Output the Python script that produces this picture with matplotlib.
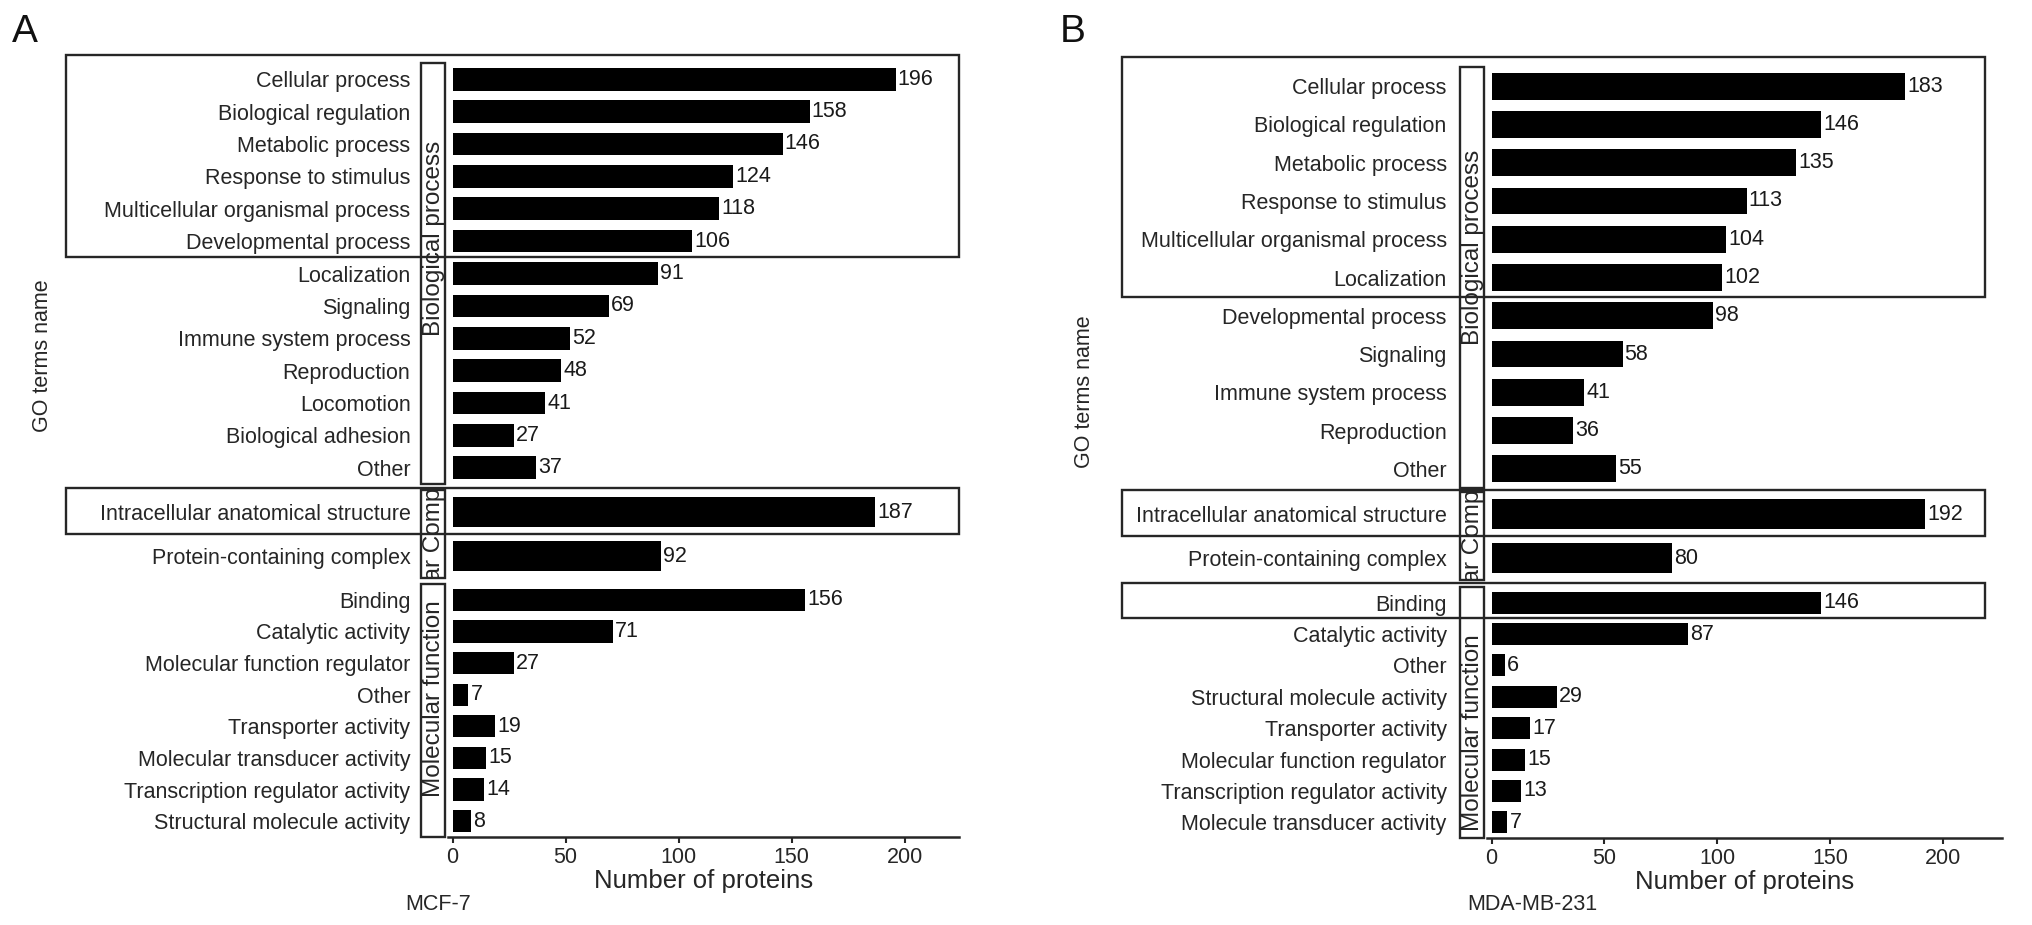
import matplotlib
matplotlib.use("Agg")
import matplotlib.pyplot as plt
from matplotlib.patches import Rectangle

plt.rcParams['font.family'] = ['Liberation Sans', 'DejaVu Sans']

# MCF-7 (panel A)
a_bp_terms = ["Cellular process", "Biological regulation", "Metabolic process",
              "Response to stimulus", "Multicellular organismal process",
              "Developmental process", "Localization", "Signaling",
              "Immune system process", "Reproduction", "Locomotion",
              "Biological adhesion", "Other"]
a_bp_counts = [196, 158, 146, 124, 118, 106, 91, 69, 52, 48, 41, 27, 37]
a_cc_terms = ["Intracellular anatomical structure", "Protein-containing complex"]
a_cc_counts = [187, 92]
a_mf_terms = ["Binding", "Catalytic activity", "Molecular function regulator",
              "Other", "Transporter activity", "Molecular transducer activity",
              "Transcription regulator activity", "Structural molecule activity"]
a_mf_counts = [156, 71, 27, 7, 19, 15, 14, 8]

# MDA-MB-231 (panel B)
b_bp_terms = ["Cellular process", "Biological regulation", "Metabolic process",
              "Response to stimulus", "Multicellular organismal process",
              "Localization", "Developmental process", "Signaling",
              "Immune system process", "Reproduction", "Other"]
b_bp_counts = [183, 146, 135, 113, 104, 102, 98, 58, 41, 36, 55]
b_cc_terms = ["Intracellular anatomical structure", "Protein-containing complex"]
b_cc_counts = [192, 80]
b_mf_terms = ["Binding", "Catalytic activity", "Other",
              "Structural molecule activity", "Transporter activity",
              "Molecular function regulator", "Transcription regulator activity",
              "Molecule transducer activity"]
b_mf_counts = [146, 87, 6, 29, 17, 15, 13, 7]

strip_names = ["Biological process", "Cellular Component", "Molecular function"]
x_ticks = [0, 50, 100, 150, 200]

W, H = 2032, 925
fig = plt.figure(figsize=(W / 100, H / 100), dpi=100)
DARK = "#262626"


def fx(px):
    return px / W


def fy(py):
    return 1 - py / H


def to_fig(ax, y):
    disp = ax.transData.transform((0, y))
    return fig.transFigure.inverted().transform(disp)[1]


def highlight(ax, first, last, x0, x1, pad_top):
    ytop = to_fig(ax, first - 0.5) + pad_top / H
    ybot = to_fig(ax, last + 0.5)
    fig.add_artist(Rectangle((fx(x0), ybot), fx(x1) - fx(x0), ytop - ybot,
                             transform=fig.transFigure, fill=False,
                             ec=DARK, lw=1.7, zorder=5))


def draw_panel(groups, x0, x1, xmax, facets, strip_x, label_pad, strip_shift):
    axes = []
    for i, ((terms, counts), (top, bot)) in enumerate(zip(groups, facets)):
        ax = fig.add_axes([fx(x0), fy(bot), fx(x1) - fx(x0), (bot - top) / H])
        ypos = list(range(len(terms)))
        ax.barh(ypos, counts, height=0.7, color="black")
        for yy, c in zip(ypos, counts):
            ax.annotate(str(c), (c, yy), xytext=(1.5, 0), textcoords="offset points",
                        va="center", ha="left", fontsize=15.5, color="#1a1a1a")
        ax.set_ylim(len(terms) - 0.5, -0.5)
        ax.set_xlim(-2, xmax)
        ax.set_yticks(ypos)
        ax.set_yticklabels(terms, fontsize=15.5, color=DARK)
        ax.tick_params(axis="y", length=0, pad=label_pad)
        for s in ["top", "right", "left"]:
            ax.spines[s].set_visible(False)
        if i == len(groups) - 1:
            ax.spines["bottom"].set_linewidth(1.8)
            ax.spines["bottom"].set_color(DARK)
            ax.set_xticks(x_ticks)
            ax.tick_params(axis="x", length=4, width=1.5, color=DARK,
                           labelsize=15.5, labelcolor=DARK, pad=3)
            ax.set_xlabel("Number of proteins", fontsize=18.5, color=DARK, labelpad=1)
        else:
            ax.spines["bottom"].set_visible(False)
            ax.set_xticks([])
        # strip on the left
        rect = Rectangle((fx(strip_x[0]), fy(bot)), fx(strip_x[1]) - fx(strip_x[0]),
                         (bot - top) / H, transform=fig.transFigure, fill=False,
                         ec=DARK, lw=1.7)
        fig.add_artist(rect)
        t = fig.text(fx(sum(strip_x) / 2 + 1), fy((top + bot) / 2 + strip_shift[i]),
                     strip_names[i], rotation=90, ha="center", va="center",
                     fontsize=17.5, color=DARK)
        t.set_clip_path(rect)
        axes.append(ax)
    return axes


axA = draw_panel([(a_bp_terms, a_bp_counts), (a_cc_terms, a_cc_counts),
                  (a_mf_terms, a_mf_counts)],
                 448, 959, 224, [(63, 484), (490, 578), (584, 837)], (421, 445), 27,
                 (-35, 0, -12))
axB = draw_panel([(b_bp_terms, b_bp_counts), (b_cc_terms, b_cc_counts),
                  (b_mf_terms, b_mf_counts)],
                 1487, 2002, 226, [(67, 488), (492, 580), (587, 838)], (1460, 1484), 29,
                 (-30, 0, 20))

highlight(axA[0], 0, 5, 66, 959, 8)
highlight(axA[1], 0, 0, 66, 959, 2)
highlight(axB[0], 0, 5, 1122, 1985, 10)
highlight(axB[1], 0, 0, 1122, 1985, 2)
highlight(axB[2], 0, 0, 1122, 1985, 4)

fig.text(fx(43), fy(356), "GO terms name", rotation=90, ha="center", va="center",
         fontsize=15.5, color=DARK)
fig.text(fx(1085), fy(392), "GO terms name", rotation=90, ha="center", va="center",
         fontsize=15.5, color=DARK)
fig.text(fx(405), fy(905), "MCF-7", ha="left", va="center", fontsize=15.5, color=DARK)
fig.text(fx(1467), fy(905), "MDA-MB-231", ha="left", va="center", fontsize=15.5, color=DARK)
fig.text(fx(12), fy(14), "A", ha="left", va="top", fontsize=28, color="#111111")
fig.text(fx(1060), fy(14), "B", ha="left", va="top", fontsize=28, color="#111111")

fig.savefig("out.png", dpi=100)
